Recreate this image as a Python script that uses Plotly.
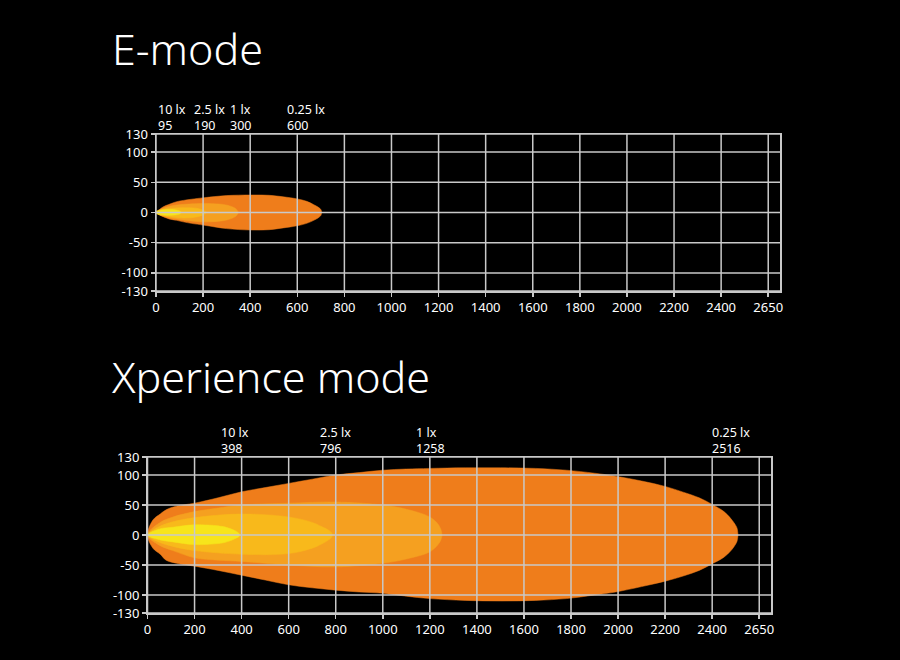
import plotly.graph_objects as go

# ---------------- data ----------------
LUX_LABELS = ["10 lx", "2.5 lx", "1 lx", "0.25 lx"]
E_DIST = [95, 190, 300, 600]
X_DIST = [398, 796, 1258, 2516]

X_TICKS = [0, 200, 400, 600, 800, 1000, 1200, 1400, 1600, 1800, 2000, 2200, 2400, 2600]
X_TICKTEXT = ["0", "200", "400", "600", "800", "1000", "1200", "1400", "1600",
              "1800", "2000", "2200", "2400", "2650"]
Y_TICKS = [-130, -100, -50, 0, 50, 100, 130]
Y_TICKTEXT = ["-130", "-100", "-50", "0", "50", "100", "130"]

# E-mode isolux outlines: distance (m), upper / lower half width (m)
E_025_X = [0, 15, 31, 59, 88, 116, 150, 204, 300, 402, 480, 540, 600, 640, 670, 690, 700, 704]
E_025_UP = [0, 5, 9.5, 14, 18, 20, 22, 24.5, 28, 29, 28.5, 26, 22.5, 18.5, 13, 8.5, 5, 0]
E_025_LO = [0, -4, -7, -11, -13, -15.5, -18, -21, -26.7, -29, -28.5, -25.5, -22, -18, -13, -8.5, -5, 0]

E_1_X = [0, 30, 73, 140, 204, 286, 320, 340, 350]
E_1_UP = [0, 7, 11.5, 14, 15, 13.3, 10, 6, 0]
E_1_LO = [0, -6, -10, -13.5, -15.5, -13.5, -10, -6, 0]

E_25_X = [0, 20, 60, 120, 170, 200, 215]
E_25_UP = [0, 4, 7, 8, 7, 4, 0]
E_25_LO = [0, -4, -7, -9, -7.5, -4, 0]

E_10_X = [0, 10, 45, 80, 100, 109]
E_10_UP = [0, 3, 5, 4.5, 2.5, 0]
E_10_LO = [0, -3, -4.5, -4, -2.5, 0]

# Xperience-mode isolux outlines
X_025_X = [0, 23, 54, 79, 122, 200, 300, 400, 500, 600, 700, 800, 900, 1000, 1100, 1200,
           1350, 1500, 1650, 1780, 1900, 1990, 2100, 2200, 2280, 2345, 2400, 2450,
           2480, 2500, 2506, 2510]
X_025_UP = [0, 25, 35, 42, 48, 53, 62, 72, 79, 86, 93, 100, 104, 108, 110, 111,
            112, 112, 111, 108, 103, 98, 90, 81, 71, 62, 51, 39,
            27, 16, 11, 0]
X_025_LO = [0, -22, -32, -42, -47, -52, -59, -67, -75, -83, -88, -92, -95, -97, -102, -106,
            -109, -110, -109, -106, -100, -95, -86, -77, -68, -59, -48, -37,
            -26, -15, -10, 0]

X_1_X = [0, 50, 108, 200, 300, 400, 600, 800, 1000, 1100, 1200, 1235, 1247, 1252]
X_1_UP = [0, 20, 30, 39, 45, 50, 53, 55, 50, 43, 30, 18, 9, 0]
X_1_LO = [0, -17, -26, -38, -42, -44, -50, -53, -47, -40, -28, -16, -8, 0]

X_25_X = [0, 50, 108, 200, 400, 600, 700, 740, 770, 782, 787]
X_25_UP = [0, 14, 22, 29, 35, 30, 21, 14, 8, 4, 0]
X_25_LO = [0, -12, -19, -26, -32, -31, -22, -15, -8, -4, 0]

X_10_X = [0, 51, 108, 200, 322, 362, 378, 388, 393]
X_10_UP = [0, 10, 13, 17, 14, 9, 6, 3, 0]
X_10_LO = [0, -8, -11.5, -16, -13, -8, -5, -3, 0]

# label anchor positions along the distance axis (left edge of the text)
E_LABEL_X = [4, 157, 310, 552]
X_LABEL_X = [308, 728, 1136, 2397]

# ---------------- styles ----------------
C_025 = "#EF7D1B"
C_1 = "#F5A020"
C_25 = "#F8B91B"
C_10 = "#F7E51B"
GRID = "#C9C9C9"
FONT = "Noto Sans"

fig = go.Figure()


def outline(xs, up, lo):
    px = list(xs) + list(reversed(xs))
    py = list(up) + list(reversed(lo))
    return px, py


def add_contours(sets, xa, ya):
    for xs, up, lo, col in sets:
        px, py = outline(xs, up, lo)
        fig.add_trace(go.Scatter(
            x=px, y=py, xaxis=xa, yaxis=ya, mode="lines",
            fill="toself", fillcolor=col,
            line=dict(color=col, width=0.5, shape="spline", smoothing=1.0),
            hoverinfo="skip", showlegend=False))


add_contours([
    (E_025_X, E_025_UP, E_025_LO, C_025),
    (E_1_X, E_1_UP, E_1_LO, C_1),
    (E_25_X, E_25_UP, E_25_LO, C_25),
    (E_10_X, E_10_UP, E_10_LO, C_10),
], "x", "y")

add_contours([
    (X_025_X, X_025_UP, X_025_LO, C_025),
    (X_1_X, X_1_UP, X_1_LO, C_1),
    (X_25_X, X_25_UP, X_25_LO, C_25),
    (X_10_X, X_10_UP, X_10_LO, C_10),
], "x2", "y2")

W, H = 900, 660
top_dom_x = [156 / W, 780 / W]
top_dom_y = [(H - 291) / H, (H - 134) / H]
bot_dom_x = [147.5 / W, 771 / W]
bot_dom_y = [(H - 613) / H, (H - 457) / H]

axis_common = dict(
    showgrid=False, zeroline=False, showline=True, linecolor=GRID, linewidth=1.5,
    mirror=True, ticks="outside", ticklen=4, tickwidth=1.5, tickcolor=GRID,
    tickfont=dict(family=FONT, size=13, color="white"),
    layer="above traces", automargin=False, fixedrange=True,
)

fig.update_layout(
    width=W, height=H,
    paper_bgcolor="black", plot_bgcolor="black",
    margin=dict(l=0, r=0, t=0, b=0),
    showlegend=False,
    xaxis=dict(domain=top_dom_x, anchor="y", range=[0, 2650], tickvals=X_TICKS,
               ticktext=X_TICKTEXT, **axis_common),
    yaxis=dict(domain=top_dom_y, anchor="x", range=[-130, 130], tickvals=Y_TICKS,
               ticktext=Y_TICKTEXT, **axis_common),
    xaxis2=dict(domain=bot_dom_x, anchor="y2", range=[0, 2650], tickvals=X_TICKS,
                ticktext=X_TICKTEXT, **axis_common),
    yaxis2=dict(domain=bot_dom_y, anchor="x2", range=[-130, 130], tickvals=Y_TICKS,
                ticktext=Y_TICKTEXT, **axis_common),
)

# gridlines drawn above the filled areas
shapes = []
for xr, yr in (("x", "y"), ("x2", "y2")):
    for v in X_TICKS:
        shapes.append(dict(type="line", xref=xr, yref=yr, x0=v, x1=v, y0=-130, y1=130,
                           line=dict(color=GRID, width=1.5), layer="above"))
    for v in Y_TICKS:
        shapes.append(dict(type="line", xref=xr, yref=yr, x0=0, x1=2650, y0=v, y1=v,
                           line=dict(color=GRID, width=1.5), layer="above"))
fig.update_layout(shapes=shapes)

# titles
title_font = dict(family=FONT, size=43, color="white", weight=300)
annotations = [
    dict(text="E-mode", xref="paper", yref="paper", x=110 / W, y=(H - 48) / H,
         xanchor="left", yanchor="middle", showarrow=False, font=title_font),
    dict(text="Xperience mode", xref="paper", yref="paper", x=110 / W, y=(H - 376) / H,
         xanchor="left", yanchor="middle", showarrow=False, font=title_font),
]

lab_font = dict(family=FONT, size=12.5, color="white")
for xr, yr, lx, dists in (("x", "y domain", E_LABEL_X, E_DIST),
                          ("x2", "y2 domain", X_LABEL_X, X_DIST)):
    for pos, lab, d in zip(lx, LUX_LABELS, dists):
        annotations.append(dict(text=f"{lab}<br>{d}", xref=xr, yref=yr, x=pos, y=1,
                                xanchor="left", yanchor="bottom", align="left",
                                yshift=-1, showarrow=False, font=lab_font, borderpad=0))
fig.update_layout(annotations=annotations)

fig.write_html(
    "out.html",
    config={"displayModeBar": False, "staticPlot": True},
    post_script="document.body.style.margin='0';document.body.style.background='black';",
)
